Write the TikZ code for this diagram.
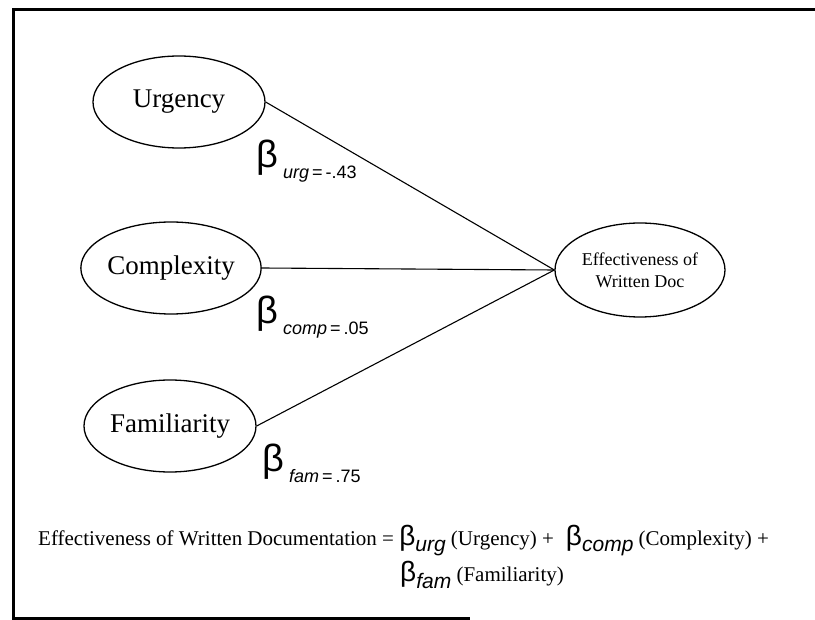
\documentclass[tikz,border=0pt]{standalone}
\usepackage{fontspec}
\setmainfont{Liberation Serif}
\newfontfamily\bfont{Liberation Sans}
\usetikzlibrary{shapes.geometric}
\newcommand\betasub[2]{{\bfont\fontsize{#2}{#2}\selectfont β}\raisebox{-6pt}{\bfont\itshape\fontsize{21}{21}\selectfont #1}}
\newcommand\betalab[2]{{\bfont\fontsize{38}{38}\selectfont β}\hspace{5pt}\raisebox{-11pt}{\bfont\fontsize{18}{18}\selectfont\textit{#1}\,=\,#2}}
\begin{document}
\begin{tikzpicture}[x=1pt,y=-1pt,
  ell/.style={ellipse,draw,line width=1.3pt,minimum width=172pt,minimum height=92pt,inner sep=0pt,font=\fontsize{27}{29}\selectfont},
  conn/.style={line width=1.1pt},
  frame/.style={line width=3pt}]
\useasboundingbox (0,0) rectangle (815,620);
\node[ell] (urg) at (179,102) {Urgency};
\node[ell] (comp) at (171,268) {Complexity};
\node[ell] (fam) at (170,426) {Familiarity};
\node[ell,minimum width=170pt,minimum height=94pt,align=center,font=\fontsize{18}{22}\selectfont] (eff) at (640,270) {Effectiveness of\\Written Doc};
\draw[conn] (urg.east) -- (eff.west);
\draw[conn] (comp.east) -- (eff.west);
\draw[conn] (fam.east) -- (eff.west);
\node[anchor=base west,inner sep=0pt] (lurg) at (256,168) {\betalab{urg}{-.43}};
\node[anchor=base west,inner sep=0pt] (lcomp) at (256,324) {\betalab{comp}{.05}};
\node[anchor=base west,inner sep=0pt] (lfam) at (262,472) {\betalab{fam}{.75}};
\node[anchor=base west,inner sep=0pt,font=\fontsize{21}{25}\selectfont] (eq1) at (38,546) {Effectiveness of Written Documentation = \betasub{urg}{28} (Urgency) +\hspace{12pt}\betasub{comp}{28} (Complexity) +};
\node[anchor=base west,inner sep=0pt,font=\fontsize{21}{25}\selectfont] (eq2) at (400,582) {\betasub{fam}{28} (Familiarity)};
\coordinate (tl) at (13,10);
\coordinate (tr) at (815,10);
\coordinate (bl) at (13,618);
\coordinate (br) at (470,618);
\draw[frame] (tr) -- (tl) -- (bl) -- (br);
\end{tikzpicture}
\end{document}
